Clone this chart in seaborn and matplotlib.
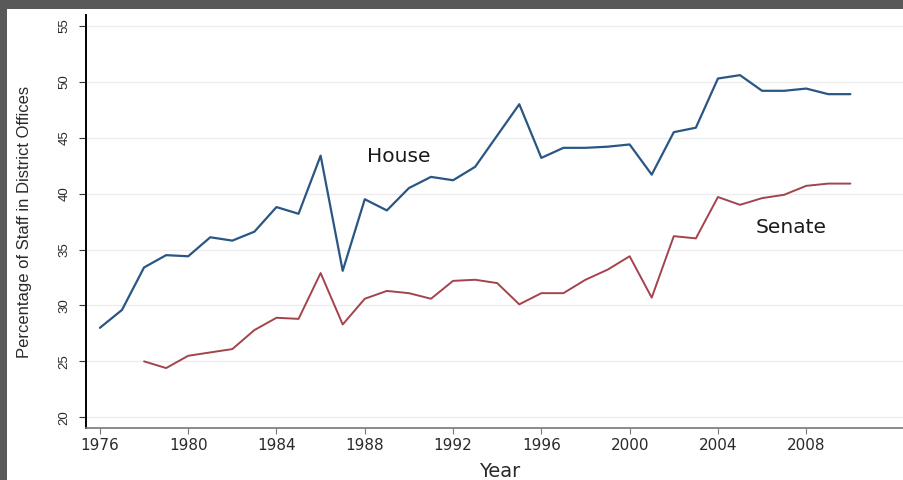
import pandas as pd
import matplotlib.pyplot as plt
import matplotlib.patches as mpatches
import seaborn as sns

# Data
house_years = list(range(1976, 2011))
house_pct = [28.0, 29.6, 33.4, 34.5, 34.4, 36.1, 35.8, 36.6, 38.8, 38.2,
             43.4, 33.1, 39.5, 38.5, 40.5, 41.5, 41.2, 42.4, 45.2, 48.0,
             43.2, 44.1, 44.1, 44.2, 44.4, 41.7, 45.5, 45.9, 50.3, 50.6,
             49.2, 49.2, 49.4, 48.9, 48.9]

senate_years = list(range(1978, 2011))
senate_pct = [25.0, 24.4, 25.5, 25.8, 26.1, 27.8, 28.9, 28.8, 32.9, 28.3,
              30.6, 31.3, 31.1, 30.6, 32.2, 32.3, 32.0, 30.1, 31.1, 31.1,
              32.3, 33.2, 34.4, 30.7, 36.2, 36.0, 39.7, 39.0, 39.6, 39.9,
              40.7, 40.9, 40.9]

x_ticks = list(range(1976, 2009, 4))
y_ticks = list(range(20, 56, 5))

house_df = pd.DataFrame({'Year': house_years, 'Pct': house_pct})
senate_df = pd.DataFrame({'Year': senate_years, 'Pct': senate_pct})

color_house = '#2a5683'
color_senate = '#a3434b'

sns.set_style('white')
plt.rcParams['font.family'] = ['DejaVu Sans']

fig = plt.figure(figsize=(9.04, 4.8), dpi=100, facecolor='#595959')
# white page inside the dark frame
fig.patches.append(mpatches.Rectangle((7 / 904, 0), 1, (480 - 9) / 480,
                                      transform=fig.transFigure,
                                      facecolor='white', edgecolor='none', zorder=-10))

ax = fig.add_axes([86 / 904, 52 / 480, 818 / 904, 413 / 480])
ax.set_facecolor('white')

sns.lineplot(data=house_df, x='Year', y='Pct', ax=ax, color=color_house, lw=1.6)
sns.lineplot(data=senate_df, x='Year', y='Pct', ax=ax, color=color_senate, lw=1.4)

ax.set_xlim(1975.37, 2012.43)
ax.set_ylim(19.04, 55.98)
ax.set_xticks(x_ticks)
ax.set_yticks(y_ticks)
ax.set_xticklabels([str(t) for t in x_ticks], fontsize=11, color='#2a2a2a')
ax.set_yticklabels([str(t) for t in y_ticks], fontsize=9.5, color='#2a2a2a',
                   rotation=90, va='center', family='Liberation Sans')

ax.grid(axis='y', color='#ececec', lw=0.9)
ax.grid(axis='x', visible=False)
ax.tick_params(axis='y', direction='out', length=5, width=0.8, color='#333333', pad=6, left=True)
ax.tick_params(axis='x', direction='out', length=4, width=0.8, color='#777777', pad=3, bottom=True)

sns.despine(ax=ax)
ax.spines['left'].set_color('black')
ax.spines['left'].set_linewidth(1.4)
ax.spines['bottom'].set_color('#777777')
ax.spines['bottom'].set_linewidth(1.2)

ax.set_ylabel('Percentage of Staff in District Offices', fontsize=12,
              family='Liberation Sans', color='#2a2a2a')
ax.yaxis.set_label_coords(-0.066, 0.5)
ax.set_xlabel('Year', fontsize=14, color='#2a2a2a', va='top')
ax.xaxis.set_label_coords(0.506, -0.083)

ax.text(1988.1, 43.3, 'House', fontsize=14.5, color='#1a1a1a', ha='left', va='center')
ax.text(2005.7, 37.0, 'Senate', fontsize=14.5, color='#1a1a1a', ha='left', va='center')

fig.savefig('out.png', dpi=100, facecolor=fig.get_facecolor())
